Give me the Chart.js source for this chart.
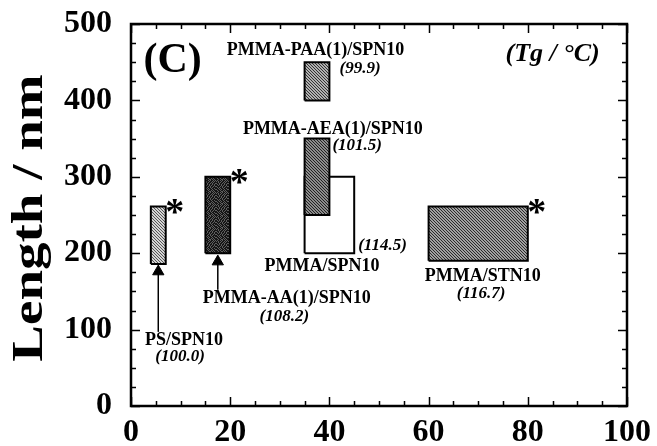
<!DOCTYPE html>
<html><head><meta charset="utf-8">
<script src="https://cdn.jsdelivr.net/npm/chart.js@4.4.0/dist/chart.umd.min.js"></script>
<style>html,body{margin:0;padding:0;background:#fff;}#wrap{width:657px;height:446px;}</style>
</head><body><div id="wrap"><canvas id="c" width="657" height="446"></canvas></div>
<script>
// ---- data ----
const categories = ['PS/SPN10', 'PMMA-AA(1)/SPN10', 'PMMA-AEA(1)/SPN10', 'PMMA-PAA(1)/SPN10', 'PMMA/SPN10', 'PMMA/STN10'];
const tgValues   = ['100.0', '108.2', '101.5', '99.9', '114.5', '116.7'];
const xStart     = [4, 15, 35, 35, 35, 60];
const xEnd       = [7, 20, 40, 40, 45, 80];
const lengthLow  = [186, 200, 250, 400, 200, 190];
const lengthHigh = [261, 300, 350, 450, 300, 261];
const marked     = [true, true, false, false, false, true];
const xTicks = [0, 20, 40, 60, 80, 100];
const yTicks = [0, 100, 200, 300, 400, 500];
const xTickLabels = ['0', '20', '40', '60', '80', '100'];
const yTickLabels = ['0', '100', '200', '300', '400', '500'];

// ---- styles ----
const SERIF = '"Liberation Serif", "Times New Roman", serif';
function makePattern(kind, bg, fg, period) {
  const s = 12;
  const cv = document.createElement('canvas');
  cv.width = s; cv.height = s;
  const cx = cv.getContext('2d');
  const img = cx.createImageData(s, s);
  const hex = h => [parseInt(h.substr(1,2),16), parseInt(h.substr(3,2),16), parseInt(h.substr(5,2),16)];
  const b = hex(bg), f = hex(fg);
  const stipple = [
    '101101011010','010110110101','110101101011','011011010110',
    '101010110101','110110101101','011101011010','101011010111',
    '110101101101','011010110110','101101101011','110110010101'];
  for (let y = 0; y < s; y++) for (let x = 0; x < s; x++) {
    let on;
    if (kind === 'diag') on = ((x - y) % period + period) % period === 0;
    else on = stipple[y][x] === '1';
    const c = on ? f : b;
    const i = (y * s + x) * 4;
    img.data[i] = c[0]; img.data[i+1] = c[1]; img.data[i+2] = c[2]; img.data[i+3] = 255;
  }
  cx.putImageData(img, 0, 0);
  return cx.createPattern(cv, 'repeat');
}
const fills = [
  makePattern('diag', '#d4d4d4', '#555555', 3),
  makePattern('dots', '#5e5e5e', '#151515', 2),
  makePattern('diag', '#8c8c8c', '#222222', 3),
  makePattern('diag', '#b0b0b0', '#333333', 3),
  '#ffffff',
  makePattern('diag', '#a0a0a0', '#2a2a2a', 3)
];
const drawOrder = [1, 1, 0, 1, 5, 1];

const datasets = [];
categories.forEach((name, i) => {
  datasets.push({
    label: name + ' fill',
    data: [{x: xStart[i], y: lengthHigh[i]}, {x: xEnd[i], y: lengthHigh[i]}],
    showLine: true, borderWidth: 0, pointRadius: 0,
    backgroundColor: fills[i],
    fill: {value: lengthLow[i]},
    order: drawOrder[i] + 0.5
  });
  datasets.push({
    label: name,
    data: [{x: xStart[i], y: lengthLow[i]}, {x: xStart[i], y: lengthHigh[i]},
           {x: xEnd[i], y: lengthHigh[i]}, {x: xEnd[i], y: lengthLow[i]},
           {x: xStart[i], y: lengthLow[i]}],
    showLine: true, borderColor: '#000', borderWidth: 2, pointRadius: 0,
    fill: false, order: drawOrder[i]
  });
});

// arrows pointing from labels to bars
const arrowX = [5.5, 17.5];
const arrowFrom = [97, 152];
const arrowTo = [176, 189];
arrowX.forEach((ax, i) => {
  datasets.push({
    label: 'arrow' + i,
    data: [{x: ax, y: arrowFrom[i]}, {x: ax, y: arrowTo[i]}],
    showLine: true, borderColor: '#000', borderWidth: 1.5,
    pointRadius: [0, 6.5], pointStyle: 'triangle',
    pointBackgroundColor: '#000', pointBorderColor: '#000', pointBorderWidth: 1,
    fill: false, order: 0
  });
});

// text annotations (data coordinates)
const LBL = 'bold 18px ' + SERIF;
const TG = 'italic bold 17px ' + SERIF;
const notes = [
  {t: categories[3], x: 37.2, y: 465, f: LBL},
  {t: '(' + tgValues[3] + ')', x: 46.2, y: 441.5, f: TG},
  {t: categories[2], x: 40.7, y: 362.6, f: LBL},
  {t: '(' + tgValues[2] + ')', x: 45.6, y: 340.4, f: TG},
  {t: '(' + tgValues[4] + ')', x: 50.7, y: 210, f: TG},
  {t: categories[4], x: 38.5, y: 183, f: LBL},
  {t: categories[1], x: 31.4, y: 140.5, f: LBL},
  {t: '(' + tgValues[1] + ')', x: 30.9, y: 117.6, f: TG},
  {t: categories[0], x: 10.7, y: 85.5, f: LBL},
  {t: '(' + tgValues[0] + ')', x: 9.9, y: 64.5, f: TG},
  {t: categories[5], x: 70.9, y: 169.3, f: LBL},
  {t: '(' + tgValues[5] + ')', x: 70.6, y: 147, f: TG},
  {t: '(C)', x: 8.4, y: 451, f: 'bold 42px ' + SERIF},
  {t: '(Tg / \u00B0C)', x: 85, y: 460, f: 'italic bold 26px ' + SERIF}
];
const starOffsetX = 1.8, starOffsetY = 2;

const decor = {
  id: 'decor',
  afterDatasetsDraw(chart) {
    const {ctx, chartArea: a, scales: {x, y}} = chart;
    ctx.save();
    ctx.strokeStyle = '#000';
    // minor / major ticks on all four sides
    ctx.lineWidth = 1.5;
    ctx.beginPath();
    for (let v = 0; v <= 100; v += 5) {
      const px = Math.round(x.getPixelForValue(v)) + 0.5;
      const len = v % 20 === 0 ? 9 : 5;
      ctx.moveTo(px, a.bottom); ctx.lineTo(px, a.bottom - len);
      ctx.moveTo(px, a.top); ctx.lineTo(px, a.top + len);
    }
    for (let v = 0; v <= 500; v += 25) {
      const py = Math.round(y.getPixelForValue(v)) + 0.5;
      const len = v % 100 === 0 ? 9 : 5;
      ctx.moveTo(a.left, py); ctx.lineTo(a.left + len, py);
      ctx.moveTo(a.right, py); ctx.lineTo(a.right - len, py);
    }
    ctx.stroke();
    ctx.lineWidth = 2.5;
    ctx.strokeRect(a.left, a.top, a.right - a.left, a.bottom - a.top);
    // asterisks for marked bars
    ctx.fillStyle = '#000';
    ctx.font = 'bold 38px ' + SERIF;
    ctx.textAlign = 'center';
    ctx.textBaseline = 'middle';
    categories.forEach((n, i) => {
      if (!marked[i]) return;
      ctx.fillText('*', x.getPixelForValue(xEnd[i] + starOffsetX), y.getPixelForValue(lengthHigh[i] + starOffsetY) + 9);
    });
    // labels
    notes.forEach(n => {
      ctx.font = n.f;
      ctx.fillText(n.t, x.getPixelForValue(n.x), y.getPixelForValue(n.y));
    });
    ctx.restore();
  },
  afterDraw(chart) {
    const {ctx} = chart;
    ctx.save();
    ctx.translate(42, 218);
    ctx.rotate(-Math.PI / 2);
    ctx.scale(1.25, 1);
    ctx.font = 'bold 44px ' + SERIF;
    ctx.fillStyle = '#000';
    ctx.textAlign = 'center';
    ctx.textBaseline = 'alphabetic';
    ctx.fillText('Length / nm', 0, 0);
    ctx.restore();
  }
};

new Chart(document.getElementById('c'), {
  type: 'scatter',
  data: {datasets},
  options: {
    responsive: false, animation: false, devicePixelRatio: 1,
    layout: {padding: {top: 24, right: 30, left: 0, bottom: 0}},
    plugins: {legend: {display: false}, tooltip: {enabled: false}},
    elements: {line: {tension: 0}},
    scales: {
      x: {
        type: 'linear', min: 0, max: 100,
        afterBuildTicks: s => { s.ticks = xTicks.map(v => ({value: v})); },
        afterFit: s => { s.height = 40; s.paddingLeft = 0; s.paddingRight = 0; },
        grid: {display: false, drawTicks: false},
        border: {display: false},
        ticks: {color: '#000', font: {family: SERIF, size: 32, weight: 'bold'}, padding: 8,
                maxRotation: 0, autoSkip: false,
                callback: (v) => xTickLabels[xTicks.indexOf(v)]}
      },
      y: {
        type: 'linear', min: 0, max: 500,
        afterBuildTicks: s => { s.ticks = yTicks.map(v => ({value: v})); },
        afterFit: s => { s.width = 131; s.paddingTop = 0; s.paddingBottom = 0; },
        grid: {display: false, drawTicks: false},
        border: {display: false},
        ticks: {color: '#000', font: {family: SERIF, size: 32, weight: 'bold'}, padding: 19,
                autoSkip: false,
                callback: (v) => yTickLabels[yTicks.indexOf(v)]}
      }
    }
  },
  plugins: [decor]
});
</script></body></html>
